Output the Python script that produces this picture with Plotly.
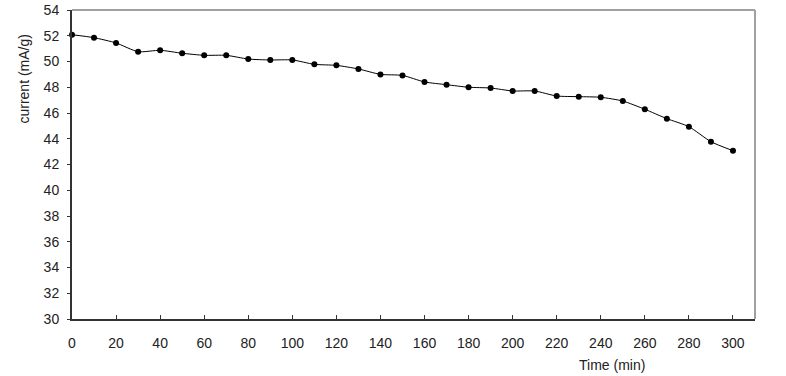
import plotly.graph_objects as go

time_min = [0, 10, 20, 30, 40, 50, 60, 70, 80, 90, 100, 110, 120, 130, 140, 150,
            160, 170, 180, 190, 200, 210, 220, 230, 240, 250, 260, 270, 280, 290, 300]
current = [52.08, 51.85, 51.44, 50.76, 50.87, 50.64, 50.48, 50.48, 50.19, 50.12, 50.12,
           49.78, 49.70, 49.42, 49.00, 48.92, 48.41, 48.20, 48.00, 47.94, 47.71, 47.71,
           47.32, 47.27, 47.22, 46.93, 46.29, 45.56, 44.94, 43.77, 43.07]
x_ticks = list(range(0, 301, 20))
y_ticks = list(range(30, 55, 2))

font = dict(family="Liberation Sans, Arial, sans-serif", size=14, color="#222222")

fig = go.Figure()
fig.add_trace(go.Scatter(
    x=time_min, y=current, mode="lines+markers",
    line=dict(color="black", width=1, shape="spline", smoothing=0.6),
    marker=dict(color="black", size=6),
    showlegend=False, cliponaxis=False,
))

fig.update_layout(
    width=786, height=376,
    margin=dict(l=72, r=31, t=10, b=57, autoexpand=False),
    paper_bgcolor="white", plot_bgcolor="white",
    font=font,
    xaxis=dict(range=[0, 310], tickvals=x_ticks, ticks="inside", ticklen=4,
               tickcolor="#333333", showgrid=False, zeroline=False,
               showline=True, linecolor="#333333", linewidth=2,
               tickfont=font, automargin=False, ticklabelstandoff=10),
    yaxis=dict(range=[30, 54], tickvals=y_ticks, ticks="outside", ticklen=3,
               tickcolor="#333333", showgrid=False, zeroline=False,
               showline=True, linecolor="#333333", linewidth=2,
               tickfont=font, ticklabelstandoff=5, automargin=False),
    shapes=[
        dict(type="line", xref="paper", yref="paper", x0=0, x1=1, y0=1, y1=1,
             line=dict(color="#a0a0a0", width=2)),
        dict(type="line", xref="paper", yref="paper", x0=1, x1=1, y0=0, y1=1,
             line=dict(color="#a0a0a0", width=2)),
    ],
    annotations=[
        dict(text="Time (min)", xref="paper", yref="paper", x=0.79, y=0,
             yshift=-46, showarrow=False, font=font, xanchor="center", yanchor="middle"),
        dict(text="current (mA/g)", xref="paper", yref="paper", x=0, xshift=-48,
             y=0.775, showarrow=False, font=font, textangle=-90,
             xanchor="center", yanchor="middle"),
    ],
)

fig.write_html("out.html")
